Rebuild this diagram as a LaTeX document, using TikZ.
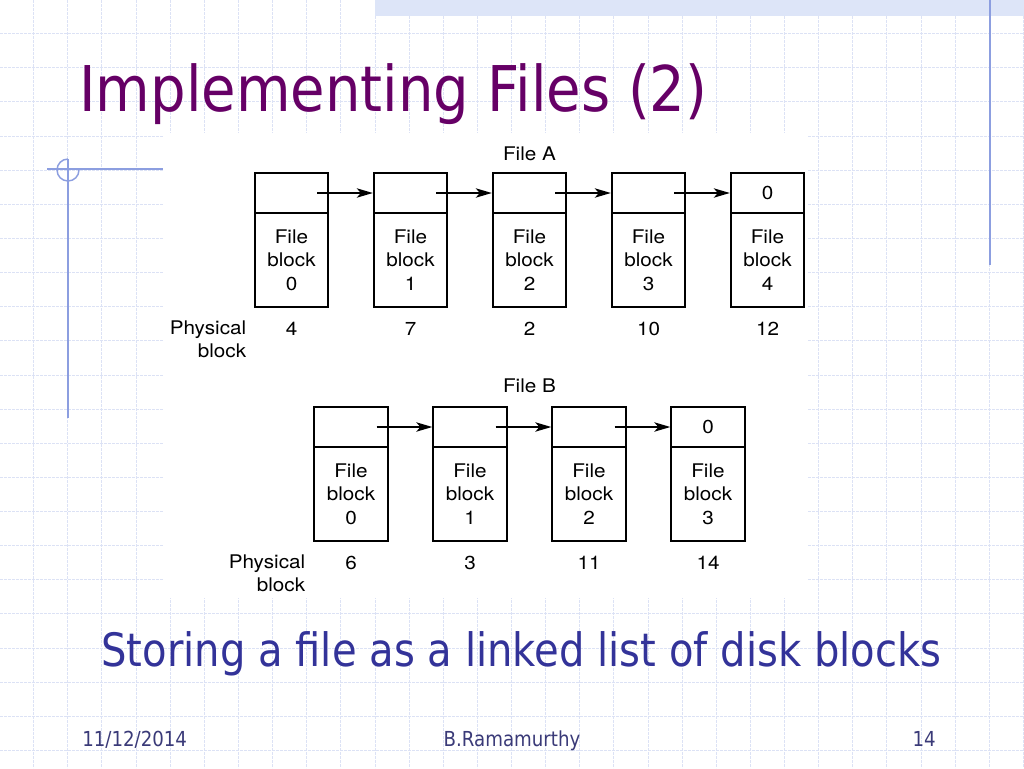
\documentclass[tikz,border=0pt]{standalone}
\usepackage{fontspec}
\setmainfont[FakeStretch=1.1]{TeX Gyre Heros}
\newfontfamily\titlefont[FakeStretch=0.889]{DejaVu Sans}
\newfontfamily\capfont[FakeStretch=0.872]{DejaVu Sans}
\newfontfamily\footfont[FakeStretch=0.88]{DejaVu Sans}
\usetikzlibrary{arrows.meta}
\definecolor{gridc}{HTML}{DCE2F5}
\definecolor{deco}{HTML}{8C9EE0}
\definecolor{band}{HTML}{DDE5F8}
\definecolor{titlec}{HTML}{660066}
\definecolor{capc}{HTML}{333399}
\definecolor{footc}{HTML}{3A3A78}
\tikzset{
  gridline/.style={gridc, line width=0.6pt, dash pattern=on 2pt off 1pt},
  decoline/.style={deco, line width=1.1pt},
  blktop/.style={draw, line width=1.4pt, minimum width=55.1pt, minimum height=30pt, inner sep=0pt, font=\fontsize{14.1pt}{17.5pt}\selectfont},
  blkbot/.style={draw, line width=1.4pt, minimum width=55.1pt, minimum height=70.5pt, inner sep=0pt, align=center, font=\fontsize{14.1pt}{17.5pt}\selectfont},
  lbl/.style={font=\fontsize{14.1pt}{17.5pt}\selectfont, inner sep=0pt},
  link/.style={line width=1.3pt, -{Stealth[length=12pt, width=7pt, inset=3pt]}},
  foot/.style={inner sep=0pt, text=footc, font=\footfont\fontsize{15.5pt}{18pt}\selectfont},
}
\begin{document}
\begin{tikzpicture}[x=0.75pt, y=-0.75pt]
\useasboundingbox (0,0) rectangle (1024,768);
\fill[white] (0,0) rectangle (1024,768);
% grid
\foreach \i in {0,...,29} \draw[gridline] ({33.6+34.13*\i},0) -- ({33.6+34.13*\i},768);
\foreach \j in {0,...,22} \draw[gridline] (0,{33.6+34.13*\j}) -- (1024,{33.6+34.13*\j});
% top band and decorations
\fill[band] (375,0) rectangle (1024,16);
\draw[decoline] (990,0) -- (990,265);
\draw[decoline] (47,169) -- (165,169);
\draw[decoline] (68,159) -- (68,418);
\draw[decoline] (68,159) arc[start angle=90, end angle=360, radius=8.25pt];
% diagram background
\fill[white] (163,133) rectangle (808,598);
% title
\node[anchor=base west, inner sep=0pt, text=titlec, font=\titlefont\fontsize{47.3pt}{56pt}\selectfont] (title) at (79,111) {Implementing Files (2)};
% File A
\node[lbl, anchor=base] (fa) at (529.5,160) {File A};
\foreach \i/\n/\t in {0/4/,1/7/,2/2/,3/10/,4/12/0} {
  \node[blktop] (a\i t) at ({291.5+119*\i},193) {\t};
  \node[blkbot] (a\i b) at ({291.5+119*\i},260) {File\\block\\\i};
  \node[lbl, anchor=base] (a\i n) at ({291.5+119*\i},335) {\n};
}
\foreach \i [evaluate=\i as \j using int(\i+1)] in {0,...,3}
  \draw[link] ([xshift=-9pt]a\i t.east) -- (a\j t.west);
\node[lbl, align=right, anchor=east] (pa) at (246.5,339) {Physical\\block};
% File B
\node[lbl, anchor=base] (fb) at (529.5,392) {File B};
\foreach \i/\n/\t in {0/6/,1/3/,2/11/,3/14/0} {
  \node[blktop] (b\i t) at ({351+119*\i},427) {\t};
  \node[blkbot] (b\i b) at ({351+119*\i},494) {File\\block\\\i};
  \node[lbl, anchor=base] (b\i n) at ({351+119*\i},569) {\n};
}
\foreach \i [evaluate=\i as \j using int(\i+1)] in {0,...,2}
  \draw[link] ([xshift=-9pt]b\i t.east) -- (b\j t.west);
\node[lbl, align=right, anchor=east] (pb) at (305.5,573) {Physical\\block};
% caption
\node[anchor=base west, inner sep=0pt, text=capc, font=\capfont\fontsize{34.5pt}{40pt}\selectfont] (cap) at (101,666) {Storing a file as a linked list of disk blocks};
% footer
\node[foot, anchor=base west] (date) at (82,746) {11/12/2014};
\node[foot, anchor=base] (auth) at (512,746) {B.Ramamurthy};
\node[foot, anchor=base east] (page) at (936,746) {14};
\end{tikzpicture}
\end{document}
